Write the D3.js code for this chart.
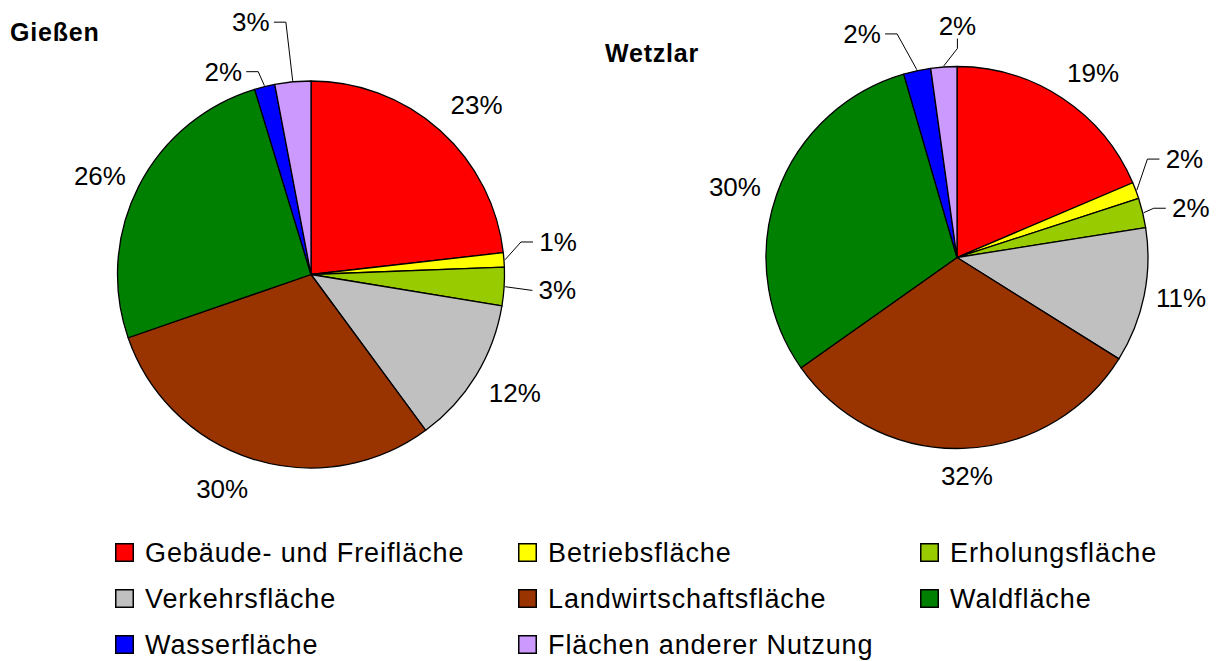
<!DOCTYPE html>
<html>
<head>
<meta charset="utf-8">
<script src="https://cdn.jsdelivr.net/npm/d3@7"></script>
<style>
  html, body { margin: 0; padding: 0; background: #fff; }
  svg { display: block; font-family: "Liberation Sans", Arial, sans-serif; }
</style>
</head>
<body>
<svg id="chart" width="1222" height="661"></svg>
<script>
// Flächennutzung in Prozent
const kategorien = [
  'Gebäude- und Freifläche', 'Betriebsfläche', 'Erholungsfläche',
  'Verkehrsfläche', 'Landwirtschaftsfläche', 'Waldfläche',
  'Wasserfläche', 'Flächen anderer Nutzung'
];
const farben = ['#FF0000', '#FFFF00', '#99CC00', '#C0C0C0', '#993300', '#008000', '#0000FF', '#CC99FF'];

const giessenWerte = [23.2, 1.2, 3.2, 12.3, 29.8, 25.6, 1.7, 3.0];
const giessenBeschriftung = ['23%', '1%', '3%', '12%', '30%', '26%', '2%', '3%'];

const wetzlarWerte = [18.6, 1.4, 2.5, 11.4, 31.3, 30.3, 2.3, 2.2];
const wetzlarBeschriftung = ['19%', '2%', '2%', '11%', '32%', '30%', '2%', '2%'];

// Lage der Beschriftungen: [Winkel in Grad, Abstand vom Mittelpunkt, Führungslinie]
const giessenLayout = [
  [44.4, 236.7, null], [82.5, 249.1, 'links'], [93.7, 246.9, 'links0'], [120.2, 235.9, null],
  [202.5, 232.2, null], [295.0, 232.9, null], [336.6, 221.0, 'rechts'], [346.6, 259.4, 'rechts']
];
const wetzlarLayout = [
  [36.4, 229.2, null], [66.6, 247.8, 'links'], [78.1, 238.9, 'links'], [100.2, 227.6, null],
  [177.4, 218.7, null], [287.6, 233.0, null], [337.0, 242.9, 'rechts'], [0.1, 232.0, 'unten']
];

const svg = d3.select('#chart');
const rad = Math.PI / 180;

function zeichneTorte(cfg) {
  const g = svg.append('g').attr('transform', `translate(${cfg.cx},${cfg.cy})`);
  const pie = d3.pie().sort(null).value((d) => d);
  const arcs = pie(cfg.werte);
  const arc = d3.arc().innerRadius(0).outerRadius(cfg.r);

  g.selectAll('path.stueck')
    .data(arcs)
    .join('path')
    .attr('class', 'stueck')
    .attr('d', arc)
    .attr('fill', (d, i) => farben[i])
    .attr('stroke', '#000')
    .attr('stroke-width', 1.3)
    .attr('stroke-linejoin', 'round');

  arcs.forEach((a, i) => {
    const [winkel, abstand, fuehrung] = cfg.layout[i];
    const lx = abstand * Math.sin(winkel * rad);
    const ly = -abstand * Math.cos(winkel * rad);
    g.append('text')
      .attr('x', lx)
      .attr('y', ly)
      .attr('text-anchor', 'middle')
      .attr('dominant-baseline', 'central')
      .attr('font-size', 26)
      .attr('fill', '#000')
      .text(cfg.texte[i]);

    if (!fuehrung) return;
    const mitte = (a.startAngle + a.endAngle) / 2;
    const ex = (cfg.r + 1) * Math.sin(mitte);
    const ey = -(cfg.r + 1) * Math.cos(mitte);
    const halb = 19;
    let pts;
    if (fuehrung === 'links') {
      const sx = lx - halb - 6;
      pts = [[sx, ly], [sx - 12, ly], [ex, ey]];
    } else if (fuehrung === 'links0') {
      const sx = lx - halb - 6;
      pts = [[sx, ly], [ex, ey]];
    } else if (fuehrung === 'rechts') {
      const sx = lx + halb + 4;
      pts = [[sx, ly], [sx + 12, ly], [ex, ey]];
    } else {
      const sy = ly + 13;
      pts = [[lx, sy], [lx, sy + 10], [ex, ey]];
    }
    g.append('path')
      .attr('d', d3.line()(pts))
      .attr('fill', 'none')
      .attr('stroke', '#000')
      .attr('stroke-width', 1);
  });

  svg.append('text')
    .attr('x', cfg.titelX)
    .attr('y', cfg.titelY)
    .attr('font-size', 25)
    .attr('font-weight', 'bold')
    .attr('letter-spacing', 0.8)
    .text(cfg.titel);
}

zeichneTorte({
  cx: 311, cy: 274.5, r: 193.5,
  werte: giessenWerte, texte: giessenBeschriftung, layout: giessenLayout,
  titel: 'Gießen', titelX: 10, titelY: 40.7
});
zeichneTorte({
  cx: 957, cy: 257.5, r: 191,
  werte: wetzlarWerte, texte: wetzlarBeschriftung, layout: wetzlarLayout,
  titel: 'Wetzlar', titelX: 605, titelY: 61.7
});

// Legende: drei Spalten, zeilenweise gefüllt
const spaltenX = [115, 518, 920];
const zeilenY = [543, 589, 635];
const legende = svg.append('g').attr('class', 'legende');
kategorien.forEach((name, i) => {
  const x = spaltenX[i % 3];
  const y = zeilenY[Math.floor(i / 3)];
  legende.append('rect')
    .attr('x', x + 0.75)
    .attr('y', y + 0.75)
    .attr('width', 17.5)
    .attr('height', 17.5)
    .attr('fill', farben[i])
    .attr('stroke', '#000')
    .attr('stroke-width', 1.5);
  legende.append('text')
    .attr('x', x + 30)
    .attr('y', y + 19)
    .attr('font-size', 27)
    .attr('letter-spacing', 0.9)
    .text(name);
});
</script>
</body>
</html>
